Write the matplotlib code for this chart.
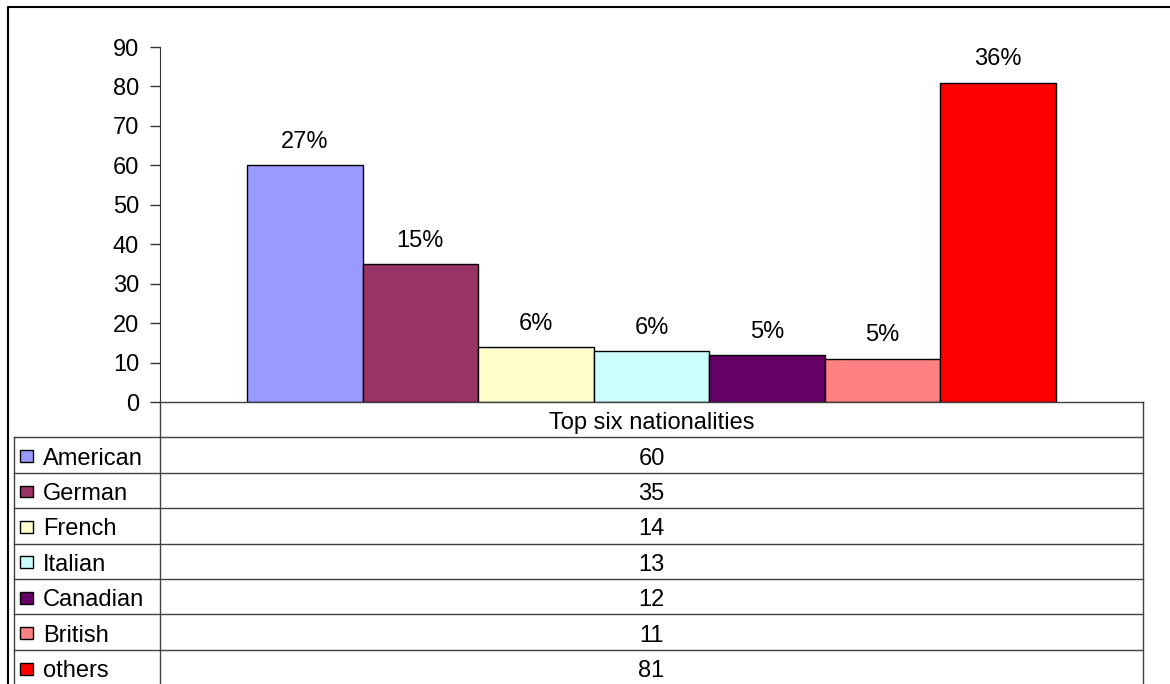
import numpy as np
import matplotlib
matplotlib.use('Agg')
import matplotlib.pyplot as plt
from matplotlib.patches import Rectangle
from matplotlib.lines import Line2D

plt.rcParams['font.family'] = ['Liberation Sans', 'DejaVu Sans']

nationalities = ['American', 'German', 'French', 'Italian', 'Canadian', 'British', 'others']
counts = [60, 35, 14, 13, 12, 11, 81]
shares = ['27%', '15%', '6%', '6%', '5%', '5%', '36%']
colors = ['#9999FF', '#993366', '#FFFFCC', '#CCFFFF', '#660066', '#FF8080', '#FF0000']
category = 'Top six nationalities'
yticks = np.arange(0, 100, 10)

W, H = 1170, 684
fs = 17
fig = plt.figure(figsize=(W / 100, H / 100), dpi=100)

def fx(px):
    return px / W

def fy(py):
    return 1 - py / H

# plot area in pixel coords
x0, x1 = 160, 1143
y_top, y_bot = 47, 402
ax = fig.add_axes([fx(x0), fy(y_bot), fx(x1) - fx(x0), fy(y_top) - fy(y_bot)])

xpos = np.arange(len(counts))
ax.bar(xpos, counts, width=1.0, color=colors, edgecolor='black', lw=1.0, zorder=3)
for x, v, s in zip(xpos, counts, shares):
    ax.text(x, v + 6.5, s, ha='center', va='center_baseline', fontsize=fs)

gap = 0.753
ax.set_xlim(-0.5 - gap, len(counts) - 0.5 + gap)
ax.set_ylim(0, 90)
ax.set_yticks(yticks)
ax.tick_params(axis='y', labelsize=fs, length=7, width=1, pad=8, color='#333333')
ax.set_xticks([])
for side in ['top', 'right', 'bottom']:
    ax.spines[side].set_visible(False)
ax.spines['left'].set_color('#333333')

# data table below the plot
row_h = 35.4
tab_left = 14
lc = '#404040'

def hline(py, xa, xb):
    fig.add_artist(Line2D([fx(xa), fx(xb)], [fy(py), fy(py)], color=lc, lw=1.0))

def vline(px, ya, yb):
    fig.add_artist(Line2D([fx(px), fx(px)], [fy(ya), fy(yb)], color=lc, lw=1.0))

hline(y_bot, x0, x1)
vline(x0, y_bot, H + 5)
vline(x1, y_bot, H + 5)
fig.text(fx((x0 + x1) / 2), fy(y_bot + row_h / 2 + 1), category,
         ha='center', va='center_baseline', fontsize=fs)

first = y_bot + row_h
vline(tab_left, first, H + 5)
for i, (name, v, c) in enumerate(zip(nationalities, counts, colors)):
    top = first + i * row_h
    hline(top, tab_left, x1)
    cy = top + row_h / 2
    fig.add_artist(Rectangle((fx(20), fy(cy + 7)), fx(13), fy(cy - 5) - fy(cy + 7),
                             facecolor=c, edgecolor='black', lw=1.0))
    fig.text(fx(43), fy(cy + 1), name, ha='left', va='center_baseline', fontsize=fs)
    fig.text(fx((x0 + x1) / 2), fy(cy + 1), str(v), ha='center',
             va='center_baseline', fontsize=fs)
hline(first + len(counts) * row_h, tab_left, x1)

# outer chart border, cut off at the right and bottom
fig.add_artist(Line2D([fx(8), fx(8), fx(W + 5)], [fy(H + 5), fy(7), fy(7)],
                      color='black', lw=1.5))

fig.savefig('out.png', dpi=100)
